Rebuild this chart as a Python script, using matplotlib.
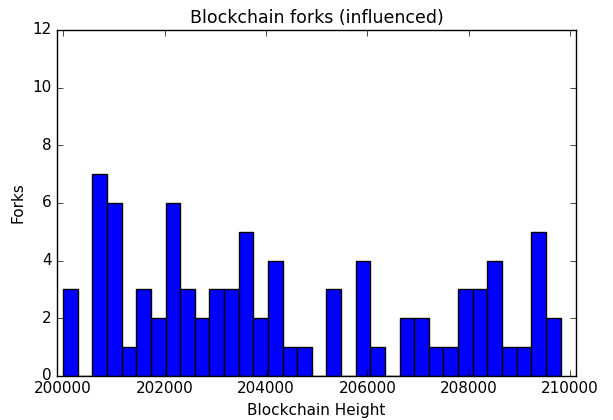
import numpy as np
import matplotlib
matplotlib.use("Agg")
import matplotlib.pyplot as plt

# fork counts per height bin
counts = [3, 0, 7, 6, 1, 3, 2, 6, 3, 2, 3, 3, 5, 2, 4, 1, 1, 0,
          3, 0, 4, 1, 0, 2, 2, 1, 1, 3, 3, 4, 1, 1, 5, 2]
height_min = 200000
height_max = 209810
xticks = [200000, 202000, 204000, 206000, 208000, 210000]

plt.style.use("classic")

edges = np.linspace(height_min, height_max, len(counts) + 1)

fig = plt.figure(figsize=(6.13, 4.2), dpi=100)
ax = fig.add_axes([0.093, 0.105, 0.847, 0.824])
ax.hist(edges[:-1], bins=edges, weights=counts, color="b", edgecolor="k")

ax.set_xlim(199880, 210120)
ax.set_ylim(0, 12)
ax.set_xticks(xticks)
ax.set_xticklabels([str(t) for t in xticks])
ax.set_title("Blockchain forks (influenced)", fontsize=12.5)
ax.set_xlabel("Blockchain Height", fontsize=11)
ax.set_ylabel("Forks", fontsize=11)
ax.tick_params(labelsize=11)

fig.savefig("out.png", dpi=100)
